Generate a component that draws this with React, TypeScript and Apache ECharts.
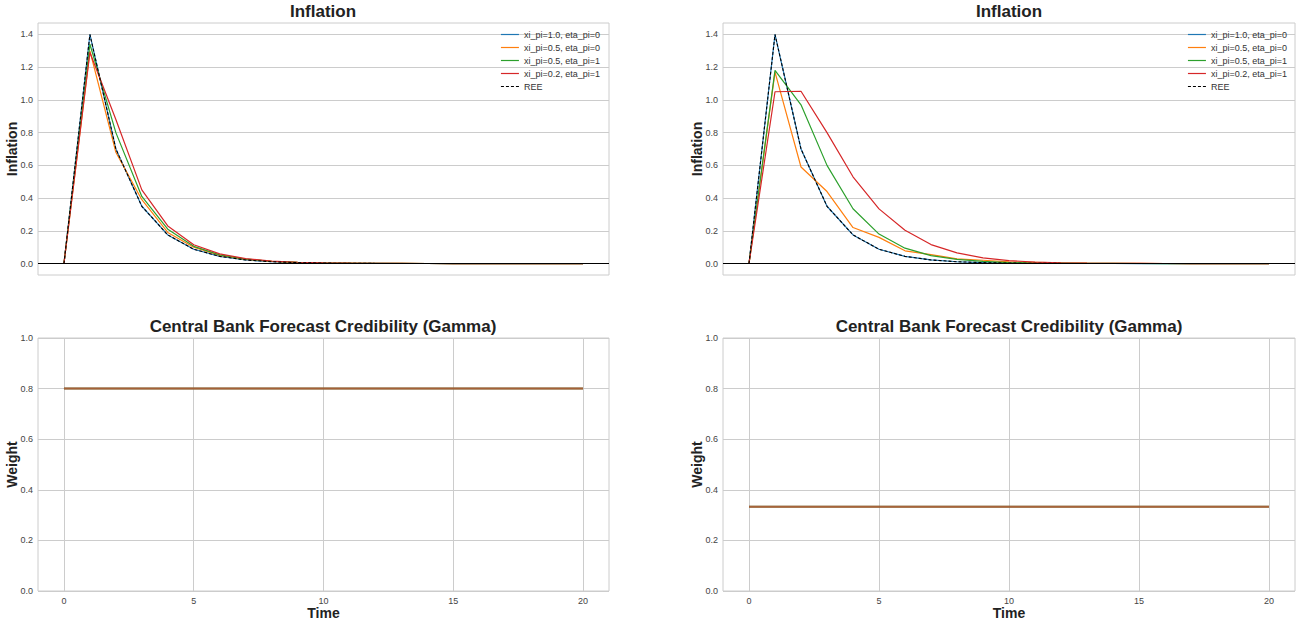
import React, { useEffect, useRef } from "react";
import * as echarts from "echarts";

const time = Array.from({ length: 21 }, (_, i) => i);
const seriesNames = ["xi_pi=1.0, eta_pi=0", "xi_pi=0.5, eta_pi=0", "xi_pi=0.5, eta_pi=1", "xi_pi=0.2, eta_pi=1"];
const seriesColors = ["#1f77b4", "#ff7f0e", "#2ca02c", "#d62728"];

// Left column (panel A)
const leftBlue = [0, 1.4, 0.7, 0.35, 0.175, 0.0875, 0.044, 0.022, 0.011, 0.0055, 0.0027, 0.0014, 0.0007, 0.0003, 0.0002, 0.0001, 0, 0, 0, 0, 0];
const leftOrange = [0, 1.3, 0.68, 0.39, 0.19, 0.1, 0.05, 0.026, 0.013, 0.007, 0.003, 0.002, 0.001, 0.0005, 0.0002, 0.0001, 0, 0, 0, 0, 0];
const leftGreen = [0, 1.34, 0.8, 0.41, 0.21, 0.105, 0.053, 0.027, 0.014, 0.007, 0.004, 0.002, 0.001, 0.0005, 0.0002, 0.0001, 0, 0, 0, 0, 0];
const leftRed = [0, 1.29, 0.88, 0.45, 0.23, 0.115, 0.059, 0.03, 0.015, 0.008, 0.004, 0.002, 0.001, 0.0005, 0.0003, 0.0001, 0, 0, 0, 0, 0];
const leftREE = [0, 1.4, 0.7, 0.35, 0.175, 0.0875, 0.044, 0.022, 0.011, 0.0055, 0.0027, 0.0014, 0.0007, 0.0003, 0.0002, 0.0001, 0, 0, 0, 0, 0];
const leftGamma = [0.8, 0.8, 0.8, 0.8];

// Right column (panel B)
const rightBlue = [0, 1.4, 0.7, 0.35, 0.175, 0.0875, 0.044, 0.022, 0.011, 0.0055, 0.0027, 0.0014, 0.0007, 0.0003, 0.0002, 0.0001, 0, 0, 0, 0, 0];
const rightOrange = [0, 1.17, 0.59, 0.44, 0.22, 0.16, 0.078, 0.055, 0.028, 0.02, 0.01, 0.007, 0.004, 0.002, 0.001, 0.0005, 0.0002, 0.0001, 0, 0, 0];
const rightGreen = [0, 1.18, 0.97, 0.6, 0.335, 0.18, 0.094, 0.048, 0.025, 0.013, 0.006, 0.003, 0.002, 0.001, 0.0005, 0.0002, 0.0001, 0, 0, 0, 0];
const rightRed = [0, 1.05, 1.053, 0.8, 0.53, 0.334, 0.204, 0.116, 0.065, 0.035, 0.018, 0.009, 0.005, 0.002, 0.001, 0.0005, 0.0002, 0.0001, 0, 0, 0];
const rightREE = [0, 1.4, 0.7, 0.35, 0.175, 0.0875, 0.044, 0.022, 0.011, 0.0055, 0.0027, 0.0014, 0.0007, 0.0003, 0.0002, 0.0001, 0, 0, 0, 0, 0];
const rightGamma = [1 / 3, 1 / 3, 1 / 3, 1 / 3];

const inflationTicks = [0, 0.2, 0.4, 0.6, 0.8, 1.0, 1.2, 1.4];
const weightTicks = [0, 0.2, 0.4, 0.6, 0.8, 1.0];
const timeTicks = [0, 5, 10, 15, 20];

const FONT = "Liberation Sans, Arial, Helvetica, sans-serif";

export default function App() {
  const ref = useRef<HTMLDivElement>(null);
  useEffect(() => {
    document.body.style.margin = "0";
    const chart = echarts.init(ref.current!, null, { renderer: "svg" });

    const grids = [
      { left: 38, top: 23, width: 571, height: 252 },
      { left: 723, top: 23, width: 572, height: 252 },
      { left: 38, top: 338, width: 571, height: 253 },
      { left: 723, top: 338, width: 572, height: 253 },
    ].map((g) => ({ ...g, show: true, borderColor: "#cccccc", borderWidth: 1, backgroundColor: "#ffffff" }));

    const xAxes = [0, 1, 2, 3].map((i) => ({
      type: "value",
      gridIndex: i,
      min: -1,
      max: 21,
      axisLine: { show: false },
      axisTick: { show: false, customValues: timeTicks },
      axisLabel: { show: i >= 2, customValues: timeTicks, fontSize: 9, color: "#444", margin: 5, fontFamily: FONT },
      splitLine: { show: i >= 2, lineStyle: { color: "#cccccc", width: 1 } },
      name: i >= 2 ? "Time" : "",
      nameLocation: "middle",
      nameGap: 12,
      nameTextStyle: { fontSize: 14, fontWeight: "bold", color: "#222", fontFamily: FONT, verticalAlign: "top" },
    }));

    const yAxes = [0, 1, 2, 3].map((i) => {
      const top = i < 2;
      const ticks = top ? inflationTicks : weightTicks;
      return {
        type: "value",
        gridIndex: i,
        min: top ? -0.07 : 0,
        max: top ? 1.47 : 1,
        axisLine: { show: false },
        axisTick: { show: false, customValues: ticks },
        axisLabel: {
          customValues: ticks,
          fontSize: 9,
          color: "#444",
          margin: 5,
          fontFamily: FONT,
          formatter: (v: number) => v.toFixed(1),
        },
        splitLine: { show: true, lineStyle: { color: "#cccccc", width: 1 } },
        name: top ? "Inflation" : "Weight",
        nameLocation: "middle",
        nameGap: 19,
        nameMoveOverlap: false,
        nameTextStyle: { fontSize: 14, fontWeight: "bold", color: "#222", fontFamily: FONT },
      };
    });

    const series: any[] = [];
    const inflationSets = [
      [leftBlue, leftOrange, leftGreen, leftRed, leftREE],
      [rightBlue, rightOrange, rightGreen, rightRed, rightREE],
    ];
    inflationSets.forEach((set, gi) => {
      seriesNames.forEach((name, k) => {
        series.push({
          type: "line",
          name,
          xAxisIndex: gi,
          yAxisIndex: gi,
          data: time.map((t) => [t, set[k][t]]),
          symbol: "none",
          showSymbol: false,
          lineStyle: { color: seriesColors[k], width: 1.2 },
          itemStyle: { color: seriesColors[k] },
        });
      });
      series.push({
        type: "line",
        name: "REE",
        xAxisIndex: gi,
        yAxisIndex: gi,
        data: time.map((t) => [t, set[4][t]]),
        symbol: "none",
        showSymbol: false,
        lineStyle: { color: "#000000", width: 1.1, type: [3, 2] },
        itemStyle: { color: "#000000" },
        markLine: {
          silent: true,
          symbol: "none",
          label: { show: false },
          lineStyle: { color: "#000000", width: 1.2, type: "solid" },
          data: [{ yAxis: 0 }],
        },
      });
    });
    [leftGamma, rightGamma].forEach((g, gi) => {
      seriesNames.forEach((name, k) => {
        series.push({
          type: "line",
          name: "Gamma " + name,
          xAxisIndex: gi + 2,
          yAxisIndex: gi + 2,
          data: time.map((t) => [t, g[k]]),
          symbol: "none",
          lineStyle: { color: seriesColors[k], width: 2, opacity: 0.5 },
        });
      });
    });

    const legendNames = [...seriesNames, "REE"];
    const legends = [
      { right: 696, top: 30 },
      { right: 9, top: 30 },
    ].map((p) => ({
      ...p,
      orient: "vertical",
      data: legendNames,
      itemWidth: 18,
      itemHeight: 8,
      itemGap: 4,
      padding: 0,
      itemStyle: { opacity: 0, borderWidth: 0 },
      lineStyle: { width: 1.2 },
      textStyle: { fontSize: 9, color: "#333", fontFamily: FONT },
    }));

    const titleStyle = { fontSize: 17, fontWeight: "bold", color: "#222", fontFamily: FONT };
    const titles = [
      { text: "Inflation", left: 323, top: 3 },
      { text: "Inflation", left: 1009, top: 3 },
      { text: "Central Bank Forecast Credibility (Gamma)", left: 323, top: 318 },
      { text: "Central Bank Forecast Credibility (Gamma)", left: 1009, top: 318 },
    ].map((t) => ({ ...t, textAlign: "center", padding: 0, textStyle: titleStyle }));

    chart.setOption({
      animation: false,
      backgroundColor: "#ffffff",
      title: titles,
      legend: legends,
      grid: grids,
      xAxis: xAxes,
      yAxis: yAxes,
      series,
    });
    return () => chart.dispose();
  }, []);
  return <div ref={ref} style={{ width: 1296, height: 621 }} />;
}
